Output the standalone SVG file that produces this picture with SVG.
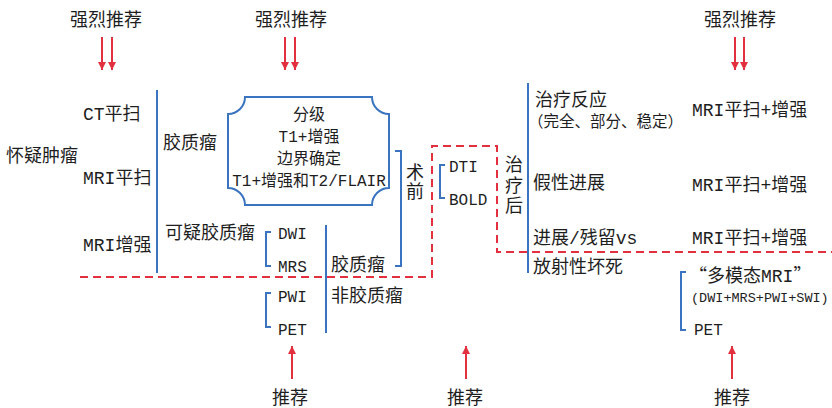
<svg xmlns="http://www.w3.org/2000/svg" width="832" height="408" viewBox="0 0 832 408">
<style>
text{font-family:"Liberation Mono","Noto Sans CJK SC",monospace;fill:#1e1e1e;font-size:18px}
.s{font-size:16px}
.xs{font-size:13.5px}
.m{text-anchor:middle}
.cjk{font-family:"Noto Sans CJK SC",sans-serif}
.b{fill:none;stroke:#3a74c0;stroke-width:2}
.r{fill:none;stroke:#e2303f;stroke-width:2}
.d{fill:none;stroke:#e2303f;stroke-width:2;stroke-dasharray:8 5}
</style>
<defs>
<marker id="ah" viewBox="0 0 10 10" refX="10" refY="5" markerWidth="8" markerHeight="9" orient="auto" markerUnits="userSpaceOnUse">
<path d="M0,0 L10,5 L0,10 z" fill="#e2303f"/>
</marker>
</defs>
<rect width="832" height="408" fill="#fff"/>
<g id="connectors">
<line class="r" x1="102" y1="37" x2="102" y2="70" marker-end="url(#ah)"/>
<line class="r" x1="112" y1="37" x2="112" y2="70" marker-end="url(#ah)"/>
<line class="r" x1="285" y1="37" x2="285" y2="70" marker-end="url(#ah)"/>
<line class="r" x1="295" y1="37" x2="295" y2="70" marker-end="url(#ah)"/>
<line class="r" x1="735" y1="37" x2="735" y2="70" marker-end="url(#ah)"/>
<line class="r" x1="744" y1="37" x2="744" y2="70" marker-end="url(#ah)"/>
<line class="r" x1="292" y1="379" x2="292" y2="346" marker-end="url(#ah)"/>
<line class="r" x1="466" y1="379" x2="466" y2="346" marker-end="url(#ah)"/>
<line class="r" x1="732" y1="379" x2="732" y2="346" marker-end="url(#ah)"/>
<path class="d" d="M80,277 H432 V146 H497 V252 H832"/>
<line class="b" x1="157" y1="90" x2="157" y2="273"/>
<path class="b" d="M395,151 H401 V266 H395"/>
<path class="b" d="M271,232 H266 V266 H271"/>
<line class="b" x1="326" y1="225" x2="326" y2="333"/>
<path class="b" d="M271,293 H266 V327 H271"/>
<path class="b" d="M445,165 H440 V198 H445"/>
<line class="b" x1="528" y1="83" x2="528" y2="273"/>
<path class="b" d="M686,272 H681 V330 H686"/>
</g>
<g id="rec1"><text class="m" x="106" y="26">强烈推荐</text></g>
<g id="rec2"><text class="m" x="291" y="26">强烈推荐</text></g>
<g id="rec3"><text class="m" x="740" y="26">强烈推荐</text></g>
<g id="suspect"><text x="6" y="162">怀疑肿瘤</text></g>
<g id="ct"><text x="83" y="120">CT平扫</text></g>
<g id="mri-plain"><text x="83" y="184">MRI平扫</text></g>
<g id="mri-enh"><text x="83" y="251">MRI增强</text></g>
<g id="glioma"><text x="163" y="149">胶质瘤</text></g>
<g id="grading-box">
<path class="b" d="M245,97 H372 A17,17 0 0 0 389,114 V188 A17,17 0 0 0 372,205 H245 A17,17 0 0 0 228,188 V114 A17,17 0 0 0 245,97 Z"/>
<text class="m s" x="309" y="120">分级</text>
<text class="m s" x="309" y="142">T1+增强</text>
<text class="m s" x="309" y="164">边界确定</text>
<text class="m s" x="309" y="186">T1+增强和T2/FLAIR</text>
</g>
<g id="preop"><text class="m" x="415" y="179">术</text><text class="m" x="415" y="198">前</text></g>
<g id="susp-glioma"><text x="165" y="239">可疑胶质瘤</text></g>
<g id="dwi-mrs"><text class="s" x="278" y="239">DWI</text><text class="s" x="278" y="272">MRS</text></g>
<g id="glioma2"><text x="331" y="271">胶质瘤</text></g>
<g id="nonglioma"><text x="331" y="302">非胶质瘤</text></g>
<g id="pwi-pet"><text class="s" x="278" y="302">PWI</text><text class="s" x="278" y="335">PET</text></g>
<g id="rec-b1"><text class="m" x="290" y="404">推荐</text></g>
<g id="rec-b2"><text class="m" x="465" y="404">推荐</text></g>
<g id="rec-b3"><text class="m" x="732" y="404">推荐</text></g>
<g id="dti-bold"><text class="s" x="449" y="172">DTI</text><text class="s" x="449" y="205">BOLD</text></g>
<g id="posttx"><text class="m" x="514" y="171">治</text><text class="m" x="514" y="192">疗</text><text class="m" x="514" y="212">后</text></g>
<g id="response"><text x="535" y="106">治疗反应</text><text x="528" y="127" style="font-size:15.5px">（完全、部分、稳定）</text></g>
<g id="pseudo"><text x="533" y="189">假性进展</text></g>
<g id="progress"><text x="533" y="244">进展/残留vs</text><text x="533" y="273">放射性坏死</text></g>
<g id="mri1"><text x="692" y="116">MRI平扫+增强</text></g>
<g id="mri2"><text x="692" y="191">MRI平扫+增强</text></g>
<g id="mri3"><text x="692" y="244">MRI平扫+增强</text></g>
<g id="multimodal"><text x="689" y="282"><tspan class="cjk">“</tspan>多模态MRI<tspan class="cjk">”</tspan></text><text class="xs" x="691" y="302">(DWI+MRS+PWI+SWI)</text><text class="s" x="694" y="335">PET</text></g>
</svg>
